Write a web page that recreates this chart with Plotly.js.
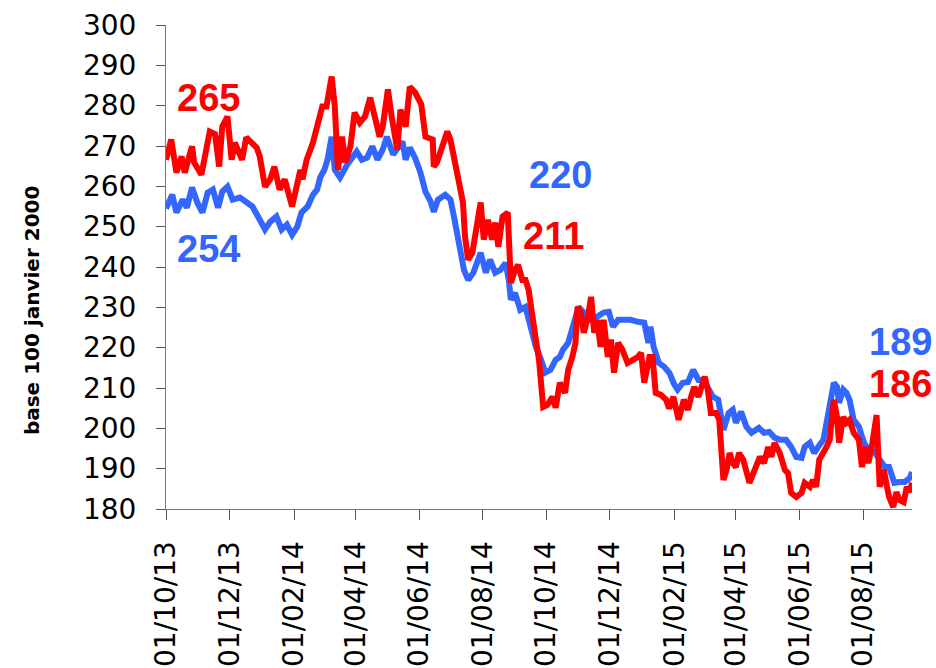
<!DOCTYPE html>
<html>
<head>
<meta charset="utf-8">
<script src="https://cdn.plot.ly/plotly-3.0.1.min.js"></script>
<style>
  html, body { margin: 0; padding: 0; background: #ffffff; }
  #chart { width: 936px; height: 668px; }
</style>
</head>
<body>
<div id="chart"></div>
<script>
// ---- data (x = days since 01/10/2013, y = index, base 100 janvier 2000) ----
const blueDay = [0,6,10,16,20,25,30,35,40,45,50,54,59,64,71,77,83,90,95,100,106,111,116,121,126,130,136,141,145,148,152,155,159,162,167,174,179,183,188,193,198,203,208,212,218,222,227,230,234,239,244,249,254,257,261,268,273,276,281,286,290,295,302,307,311,316,321,326,329,331,335,340,345,350,355,360,364,369,374,378,381,386,391,396,401,408,414,420,425,429,434,439,446,453,459,463,465,468,473,478,483,488,491,496,501,506,511,516,520,525,530,535,540,544,547,552,557,562,569,574,579,584,589,595,600,605,610,613,618,622,626,631,634,637,641,644,646,650,653,656,660,665,670,674,680,685,690,694,699,704,709,714,716];
const blueVal = [254.5,257.9,253.5,256.7,254.7,259.7,256.0,253.5,258.4,259.2,254.7,258.7,259.9,256.7,257.2,256.2,255.0,251.7,249.3,251.2,252.5,249.3,250.5,248.0,250.0,253.5,255.0,257.9,259.2,262.2,264.1,266.6,272.3,264.1,262.2,265.4,267.4,268.6,266.6,267.1,269.9,266.6,269.1,272.3,267.9,269.1,271.1,266.6,269.6,267.1,263.6,258.7,256.2,253.7,256.7,257.9,256.7,253.0,246.8,239.3,236.8,238.6,243.5,238.6,241.8,238.6,239.3,241.0,236.8,231.9,233.6,229.4,230.1,225.2,220.2,217.0,213.8,214.5,217.0,217.7,219.5,221.2,225.2,230.1,228.7,226.9,227.7,228.7,228.9,225.2,226.9,226.9,226.9,226.4,226.2,221.2,225.2,220.2,216.2,215.3,213.8,210.8,209.6,211.3,211.5,214.5,212.0,212.0,210.3,207.8,207.1,199.6,203.8,204.6,201.4,204.1,200.4,198.9,200.1,198.9,199.1,197.7,197.2,197.2,195.4,192.9,192.7,195.4,196.4,193.9,195.4,197.2,201.4,206.3,211.3,210.3,206.3,209.6,208.8,207.1,202.1,200.4,196.4,194.7,194.2,192.2,190.4,190.4,186.5,186.7,186.7,187.7,189.2];

const redDay = [0,5,10,15,18,25,27,34,42,47,51,54,59,63,66,73,77,82,87,90,95,100,104,109,114,121,124,129,131,135,141,146,150,154,159,162,165,169,172,177,181,186,191,196,201,205,208,213,217,222,225,230,234,239,245,249,256,257,260,265,270,273,276,281,285,287,290,294,297,302,305,309,313,316,319,323,328,329,331,335,338,342,345,348,352,355,358,362,366,371,374,378,383,386,390,393,395,398,401,405,408,411,414,417,420,424,427,430,434,438,443,448,453,456,459,464,467,470,475,480,483,487,490,492,497,501,504,507,511,514,517,520,523,528,531,535,538,541,544,547,550,554,557,560,565,570,574,578,581,584,589,594,597,600,605,610,613,618,621,624,627,631,634,637,641,644,646,650,653,656,660,665,668,671,674,677,682,685,689,692,694,698,701,704,708,711,714,716];
const redVal = [266.6,271.6,263.4,267.4,263.4,269.9,265.9,262.9,273.6,273.0,264.9,274.8,277.3,266.6,270.8,266.6,272.1,270.8,269.6,267.4,259.9,261.7,264.9,259.2,261.7,255.0,258.4,264.1,261.7,266.6,270.8,276.6,279.8,279.8,287.2,279.8,264.1,272.3,265.9,269.9,278.3,275.8,277.3,282.0,276.6,272.3,274.8,284.0,276.6,269.1,279.0,274.8,284.7,283.3,280.3,272.3,271.6,264.9,265.9,269.9,273.6,271.6,267.9,262.4,256.0,247.5,241.8,243.5,248.0,256.0,246.8,251.7,246.8,251.0,245.0,252.5,253.5,247.5,236.1,239.3,240.5,236.8,236.8,234.4,226.2,222.0,217.0,205.3,205.8,207.8,205.1,211.3,208.8,214.5,217.7,221.2,230.1,228.7,223.7,227.7,232.6,223.7,226.9,220.2,226.9,217.7,222.0,213.8,221.2,219.5,216.2,217.0,217.7,218.7,211.3,217.7,217.7,208.8,208.3,207.1,204.9,207.8,204.6,202.1,207.1,204.6,207.8,210.3,207.8,210.3,212.8,209.6,203.8,203.8,202.1,187.2,189.7,193.9,191.4,190.4,193.9,192.2,189.7,186.5,189.7,192.9,191.4,195.4,192.9,196.4,193.9,189.7,188.9,184.0,183.0,184.0,186.5,185.5,187.2,185.5,192.2,193.9,195.4,197.2,207.1,202.8,196.4,202.8,201.4,202.1,198.9,197.2,190.4,195.4,191.4,194.7,203.3,185.5,189.7,185.5,183.0,180.5,184.2,182.2,181.7,185.5,184.2,186.5];

const tickDays   = [0,61,123,182,243,304,365,426,488,547,608,669];
const tickLabels = ["01/10/13","01/12/13","01/02/14","01/04/14","01/06/14","01/08/14","01/10/14","01/12/14","01/02/15","01/04/15","01/06/15","01/08/15"];

const yTitle = "base 100 janvier 2000";
const labels = [
  {text: "265", day: 41,  val: 281.9, color: "red"},
  {text: "254", day: 41,  val: 244.5, color: "blue"},
  {text: "220", day: 379, val: 262.7, color: "blue"},
  {text: "211", day: 372, val: 247.8, color: "red"},
  {text: "189", day: 705, val: 221.3, color: "blue"},
  {text: "186", day: 705, val: 211.0, color: "red"}
];

// ---- helpers ----
const BASE = Date.UTC(2013, 9, 1);
function dayToDate(d) { return new Date(BASE + d * 86400000).toISOString().slice(0, 10); }

const RED = "#FF0000";
const BLUE = "#3366FF";

const traces = [
  { x: blueDay.map(dayToDate), y: blueVal, type: "scatter", mode: "lines",
    line: { color: BLUE, width: 6 }, hoverinfo: "skip" },
  { x: redDay.map(dayToDate), y: redVal, type: "scatter", mode: "lines",
    line: { color: RED, width: 6 }, hoverinfo: "skip" }
];

const annotations = labels.map(l => ({
  x: dayToDate(l.day), y: l.val, xref: "x", yref: "y",
  text: "<b>" + l.text + "</b>", showarrow: false,
  xanchor: "center", yanchor: "middle",
  font: { family: "Liberation Sans, Arial, sans-serif", size: 38, color: l.color === "red" ? RED : BLUE }
}));

annotations.push({
  xref: "paper", yref: "paper", x: -0.1796, y: 0.411,
  xanchor: "center", yanchor: "middle", textangle: -90, showarrow: false,
  text: "<b>" + yTitle + "</b>",
  font: { family: "DejaVu Sans, sans-serif", size: 20, color: "#000000" }
});

const layout = {
  width: 936, height: 668,
  margin: { l: 166, r: 24, t: 25, b: 159, pad: 0 },
  paper_bgcolor: "#ffffff", plot_bgcolor: "#ffffff",
  showlegend: false,
  xaxis: {
    type: "date",
    range: [dayToDate(0), dayToDate(716)],
    tickmode: "array",
    tickvals: tickDays.map(dayToDate),
    ticktext: tickLabels,
    tickangle: -90,
    ticks: "outside", ticklen: 10, tickwidth: 1, tickcolor: "#555555",
    showline: true, linecolor: "#777777", linewidth: 1,
    showgrid: false, zeroline: false,
    ticklabelstandoff: 10,
    tickfont: { family: "DejaVu Sans, sans-serif", size: 28, color: "#000000" }
  },
  yaxis: {
    range: [180, 300],
    tickmode: "linear", tick0: 180, dtick: 10,
    ticks: "outside", ticklen: 9, tickwidth: 1, tickcolor: "#555555",
    showline: true, linecolor: "#777777", linewidth: 1,
    showgrid: false, zeroline: false,
    ticklabelstandoff: 14,
    tickfont: { family: "DejaVu Sans, sans-serif", size: 28, color: "#000000" }
  },
  annotations: annotations
};

Plotly.newPlot("chart", traces, layout, { staticPlot: true, displayModeBar: false });
</script>
</body>
</html>
